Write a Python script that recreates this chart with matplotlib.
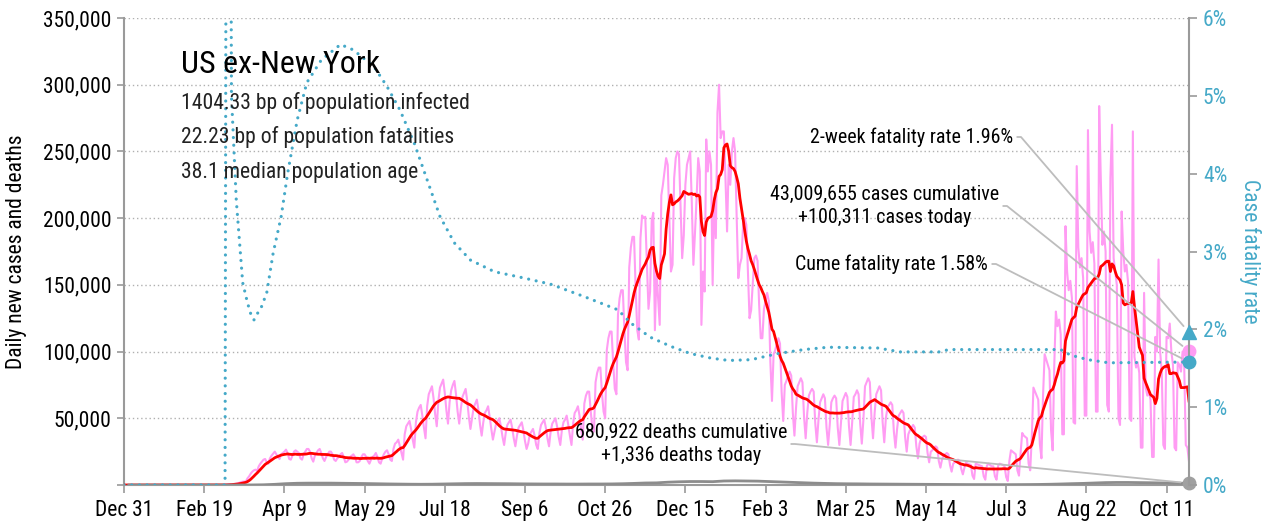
import numpy as np
import pandas as pd
import matplotlib
matplotlib.use('Agg')
from matplotlib import pyplot as plt
from matplotlib import font_manager
from matplotlib import dates as mdates
from matplotlib.ticker import FixedLocator, FuncFormatter

# buscar una fuente condensada
fuentes = font_manager.fontManager.ttflist
nombres = {f.name for f in fuentes}
candidatas = ['Liberation Sans Narrow', 'Roboto Condensed', 'Open Sans Condensed',
              'DejaVu Sans Condensed']
fuente = next((c for c in candidatas if c in nombres), None)
factor = 1.0
if fuente is None:
    otras = sorted(n for n in nombres if 'Condensed' in n or 'Narrow' in n)
    if otras:
        fuente = otras[0]
    elif any(f.name == 'DejaVu Sans' and f.stretch == 'condensed' for f in fuentes):
        fuente = 'DejaVu Sans'
        plt.rcParams['font.stretch'] = 'condensed'
        factor = 0.86
    else:
        fuente = 'Liberation Sans'
        factor = 0.84
plt.rcParams['font.family'] = [fuente, 'DejaVu Sans']

inicio = pd.Timestamp('2019-12-31')

# casos diarios (miles), una fila por semana (mar..lun)
casos_semana = [
    [0, 0, 0, 0, 0, 0, 0],
    [0, 0, 0, 0, 0, 0, 0],
    [0, 0, 0, 0, 0, 0, 0],
    [0, 0, 0, 0, 0, 0, 0],
    [0, 0, 0, 0, 0, 0, 0],
    [0, 0, 0, 0, 0, 0, 0],
    [0, 0, 0, 0, 0, 0, 0],
    [0, 0, 0, 0, 0, 0, 0],
    [0, 0, 0, 0, 0, 0, 0],
    [0.2, 0.3, 0.4, 0.5, 0.6, 0.7, 0.8],
    [1.0, 1.3, 1.7, 2.2, 2.5, 2.6, 2.7],
    [5, 6.5, 8.5, 10, 11, 11.5, 10.5],
    [14, 16, 17.5, 19, 19.5, 17, 16],
    [20, 22, 23.5, 25, 23, 21, 19.5],
    [23, 24, 25, 26.5, 24, 19.5, 19],
    [22, 25, 26, 25, 24, 20, 19],
    [23, 25, 27, 27, 25, 20, 17.5],
    [22, 24, 26, 27, 24, 20, 18],
    [21, 23, 25, 25, 23, 19, 18],
    [20, 21, 23, 24, 21, 17, 17.5],
    [19, 21, 22, 23, 21, 17, 17],
    [18, 21, 23, 23, 21, 18, 16],
    [19, 21, 22, 24, 21, 17, 16],
    [20, 23, 25, 26, 23, 19, 18],
    [27, 31, 32, 34, 29, 24, 19],
    [38, 44, 46, 48, 42, 34, 28],
    [47, 55, 58, 60, 52, 43, 35],
    [59, 68, 71, 74, 65, 53, 44],
    [63, 73, 76, 79, 69, 56, 46],
    [62, 71, 75, 78, 68, 55, 46],
    [57, 66, 69, 72, 63, 51, 42],
    [50, 58, 61, 64, 56, 45, 37],
    [47, 54, 56, 59, 51, 42, 34],
    [40, 46, 48, 50, 44, 36, 30],
    [39, 45, 47, 49, 43, 35, 29],
    [37, 43, 45, 47, 41, 33, 27],
    [31, 38, 40, 42, 37, 30, 27],
    [39, 45, 47, 49, 43, 35, 29],
    [40, 46, 48, 50, 44, 36, 30],
    [41, 47, 49, 52, 45, 37, 30],
    [46, 54, 56, 59, 52, 42, 34],
    [61, 67, 70, 70, 55, 43, 40],
    [77, 84, 88, 88, 69, 55, 50],
    [101, 110, 115, 115, 91, 72, 68],
    [128, 140, 146, 146, 116, 92, 86],
    [163, 178, 186, 186, 147, 116, 109],
    [185, 202, 200, 201, 167, 132, 145],
    [198, 204, 116, 160, 140, 120, 217],
    [225, 235, 245, 240, 200, 160, 165],
    [230, 245, 250, 248, 210, 170, 187],
    [225, 240, 245, 250, 212, 165, 189],
    [215, 245, 235, 120, 160, 145, 259],
    [235, 250, 240, 150, 215, 185, 279],
    [300, 260, 265, 265, 230, 190, 240],
    [225, 250, 260, 250, 200, 155, 165],
    [170, 195, 200, 195, 160, 125, 131],
    [150, 170, 172, 168, 135, 110, 110],
    [132, 138, 144, 138, 92, 63, 98],
    [101, 106, 110, 106, 70, 48, 75],
    [78, 82, 85, 82, 54, 37, 58],
    [74, 77, 80, 77, 51, 35, 54],
    [67, 70, 72, 70, 46, 32, 49],
    [62, 65, 68, 65, 43, 30, 45],
    [62, 65, 67, 65, 43, 30, 46],
    [63, 66, 69, 66, 44, 30, 47],
    [66, 68, 71, 68, 46, 31, 49],
    [74, 77, 80, 77, 51, 35, 54],
    [68, 71, 74, 71, 47, 32, 50],
    [58, 60, 62, 60, 40, 28, 42],
    [52, 54, 56, 54, 36, 25, 38],
    [41, 43, 45, 43, 29, 20, 31],
    [35, 36, 37, 36, 24, 17, 25],
    [26, 28, 29, 28, 18, 13, 19],
    [22, 23, 24, 23, 15, 10, 16],
    [17, 18, 19, 18, 12, 8, 13],
    [17, 16, 15.5, 15, 7, 4.5, 16],
    [15.5, 15, 14.5, 14, 6.5, 4, 14.5],
    [16, 15, 14, 14, 6.5, 4, 14.5],
    [16, 15.5, 15, 14, 6, 3, 18],
    [26, 25, 24, 23, 11, 7, 24],
    [39, 37, 36, 35, 16, 11, 36],
    [73, 70, 67, 64, 31, 20, 67],
    [98, 94, 90, 86, 41, 26, 90],
    [130, 119, 124, 113, 38, 38, 194],
    [160, 146, 153, 140, 47, 46, 239],
    [178, 163, 170, 155, 52, 52, 266],
    [190, 174, 182, 166, 55, 55, 284],
    [230, 180, 190, 175, 60, 55, 230],
    [270, 170, 160, 150, 50, 45, 205],
    [175, 160, 165, 152, 50, 48, 265],
    [96, 88, 92, 84, 28, 28, 144],
    [73, 67, 70, 64, 21, 21, 111],
    [100, 169, 100, 85, 30, 27, 111],
    [110, 121, 100, 90, 28, 26, 92],
    [90, 85, 100, 90, 30, 28, 17.5],
]

# muertes diarias promedio por semana (miles)
muertes_semana = [
    0, 0, 0, 0, 0, 0, 0, 0, 0, 0.002,
    0.005, 0.03, 0.15, 0.5, 1.0, 1.3, 1.4, 1.4, 1.4, 1.3,
    1.2, 1.1, 0.95, 0.8, 0.7, 0.6, 0.55, 0.6, 0.75, 0.9,
    1.05, 1.1, 1.05, 1.0, 0.95, 0.85, 0.8, 0.75, 0.75, 0.7,
    0.7, 0.75, 0.75, 0.8, 0.95, 1.2, 1.5, 1.6, 2.1, 2.4,
    2.6, 2.6, 2.5, 3.0, 3.1, 3.0, 2.9, 2.6, 2.3, 2.0,
    1.7, 1.4, 1.2, 1.0, 0.9, 0.85, 0.75, 0.7, 0.65, 0.6,
    0.55, 0.5, 0.45, 0.4, 0.35, 0.3, 0.3, 0.27, 0.25, 0.28,
    0.33, 0.4, 0.55, 0.75, 1.0, 1.2, 1.5, 1.8, 1.9, 1.9,
    1.8, 1.7, 1.55, 1.4, 1.3,
]

# tasa de letalidad acumulada (%), por dia desde el inicio
cfr_dia = [0, 63, 64, 66, 67, 70, 74, 77, 79, 81, 83, 85, 89, 93, 98, 102,
           108, 114, 123, 135, 143, 156, 164, 172, 181, 189, 197, 206, 216,
           231, 247, 266, 287, 308, 316, 328, 341, 353, 366, 377, 391, 408,
           424, 439, 470, 484, 509, 514, 572, 584, 590, 601, 614, 664]
cfr_pct = [0, 0, 12, 12, 5.0, 3.66, 2.6, 2.34, 2.2, 2.12, 2.2, 2.25, 2.47,
           2.98, 3.45, 4.0, 4.69, 5.17, 5.46, 5.66, 5.59, 5.37, 5.12, 4.82,
           4.39, 3.92, 3.45, 3.11, 2.89, 2.74, 2.67, 2.58, 2.42, 2.25, 2.08,
           1.9, 1.78, 1.69, 1.63, 1.60, 1.61, 1.69, 1.74, 1.77, 1.76, 1.71,
           1.71, 1.74, 1.74, 1.74, 1.67, 1.61, 1.57, 1.58]

etiquetas_x = ['Dec 31', 'Feb 19', 'Apr 9', 'May 29', 'Jul 18', 'Sep 6', 'Oct 26',
               'Dec 15', 'Feb 3', 'Mar 25', 'May 14', 'Jul 3', 'Aug 22', 'Oct 11']
fechas_x = ['2019-12-31', '2020-02-19', '2020-04-09', '2020-05-29', '2020-07-18',
            '2020-09-06', '2020-10-26', '2020-12-15', '2021-02-03', '2021-03-25',
            '2021-05-14', '2021-07-03', '2021-08-22', '2021-10-11']

titulo = 'US ex-New York'
lineas = ['1404.33 bp of population infected',
          '22.23 bp of population fatalities',
          '38.1 median population age']

casos_acum = 43009655
casos_hoy = 100311
muertes_acum = 680922
muertes_hoy = 1336
cfr_2sem = 1.96
cfr_acum = 1.58

# colores
rosa = '#ff9cf3'
rojo = '#ff0000'
gris = '#8c8c8c'
azul = '#45a9c8'
eje = '#9a9a9a'
conector = '#bdbdbd'

casos = np.array(casos_semana, dtype=float).ravel() * 1000
fechas = pd.date_range(inicio, periods=len(casos), freq='D')
media7 = pd.Series(casos).rolling(7, min_periods=1).mean().values
muertes = np.array(muertes_semana) * 1000
fechas_m = inicio + pd.to_timedelta(np.arange(len(muertes)) * 7 + 3, unit='D')
fechas_cfr = inicio + pd.to_timedelta(cfr_dia, unit='D')
ultimo = fechas[-1]
ultimo_n = mdates.date2num(ultimo)

fig = plt.figure(figsize=(12.68, 5.25), dpi=100)
ax = fig.add_axes([124 / 1268, 40 / 525, 1065 / 1268, 467 / 525])
ax2 = ax.twinx()

ax.plot(fechas, casos, color=rosa, lw=1.5, zorder=2)
ax.plot(fechas, media7, color=rojo, lw=2, zorder=3)
ax.plot(fechas_m, muertes, color=gris, lw=2, zorder=3)

ax2.plot(fechas_cfr, cfr_pct, color=azul, lw=2.3, linestyle=(0, (0.01, 2.4)),
         dash_capstyle='round')

# marcadores finales
ax.plot([ultimo], [casos_hoy], 'o', color=rosa, ms=9, clip_on=False, zorder=5)
ax.plot([ultimo], [muertes_hoy], 'o', color='#a0a0a0', ms=9, clip_on=False, zorder=5)
ax2.plot([ultimo], [cfr_2sem], '^', color=azul, ms=10, clip_on=False, zorder=5)
ax2.plot([ultimo], [cfr_acum], 'o', color=azul, ms=9, clip_on=False, zorder=5)

ax.set_xlim(inicio, ultimo)
ax.set_ylim(0, 350000)
ax2.set_ylim(0, 6)

ax.yaxis.set_major_locator(FixedLocator(np.arange(0, 350001, 50000)))
ax.yaxis.set_major_formatter(FuncFormatter(lambda v, p: '' if v == 0 else f'{v:,.0f}'))
ax2.yaxis.set_major_locator(FixedLocator(np.arange(0, 7)))
ax2.yaxis.set_major_formatter(FuncFormatter(lambda v, p: f'{v:.0f}%'))

ax.set_xticks(pd.to_datetime(fechas_x))
ax.set_xticklabels(etiquetas_x)

ax.grid(axis='y', linestyle=(0, (1, 2)), color='#b0b0b0', lw=1)
ax.set_axisbelow(True)

for a in (ax, ax2):
    a.spines['top'].set_visible(False)
    for s in ('left', 'right', 'bottom'):
        a.spines[s].set_color(eje)
        a.spines[s].set_linewidth(1.5)
ax2.spines['left'].set_visible(False)
ax2.spines['bottom'].set_visible(False)
ax.spines['right'].set_visible(False)

tam_ticks = 15.5 * factor
tam_nota = 14.4 * factor
ax.tick_params(axis='x', length=6, width=1.2, color=eje, labelsize=tam_ticks, pad=5)
ax.tick_params(axis='y', length=5, width=1.2, color=eje, labelsize=tam_ticks, pad=4)
ax2.tick_params(axis='y', length=6, width=1.2, color=eje, labelsize=tam_ticks,
                labelcolor=azul, pad=4)

ax.set_ylabel('Daily new cases and deaths', fontsize=15.5 * factor)
ax.yaxis.set_label_coords(-0.091, 0.5)
ax2.set_ylabel('Case fatality rate', fontsize=15.5 * factor, color=azul,
               rotation=270, va='bottom')
ax2.yaxis.set_label_coords(1.047, 0.5)

# textos de cabecera
fig.text(181 / 1268, 1 - 64 / 525, titulo, fontsize=23 * factor, va='center', ha='left')
for i, t in enumerate(lineas):
    fig.text(181 / 1268, 1 - (103 + 34.5 * i) / 525, t, fontsize=15.6 * factor,
             va='center', ha='left', color='#222222')

# anotaciones con conectores
flecha = dict(arrowstyle='-', color=conector, lw=1.3, shrinkA=1, shrinkB=6,
              relpos=(1, 0.5),
              connectionstyle='arc,angleA=0,angleB=0,armA=8,armB=0,rad=0')
ax2.annotate(f'2-week fatality rate {cfr_2sem:.2f}%', xy=(ultimo_n, cfr_2sem),
             xytext=(1013, 388), textcoords='figure pixels', ha='right',
             va='center', fontsize=tam_nota, arrowprops=flecha, annotation_clip=False)
ax2.annotate(f'{casos_acum:,} cases cumulative\n+{casos_hoy:,} cases today',
             xy=(ultimo_n, casos_hoy), xycoords=ax.transData,
             xytext=(999, 319), textcoords='figure pixels', ha='right',
             va='center', multialignment='center', fontsize=tam_nota,
             linespacing=1.25, arrowprops=flecha, annotation_clip=False)
ax2.annotate(f'Cume fatality rate {cfr_acum:.2f}%', xy=(ultimo_n, cfr_acum),
             xytext=(988, 261), textcoords='figure pixels', ha='right',
             va='center', fontsize=tam_nota, arrowprops=flecha, annotation_clip=False)
ax2.annotate(f'{muertes_acum:,} deaths cumulative\n+{muertes_hoy:,} deaths today',
             xy=(ultimo_n, muertes_hoy), xycoords=ax.transData,
             xytext=(787, 81), textcoords='figure pixels', ha='right',
             va='center', multialignment='center', fontsize=tam_nota,
             linespacing=1.25, arrowprops=flecha, annotation_clip=False)

fig.savefig('out.png', dpi=100)
